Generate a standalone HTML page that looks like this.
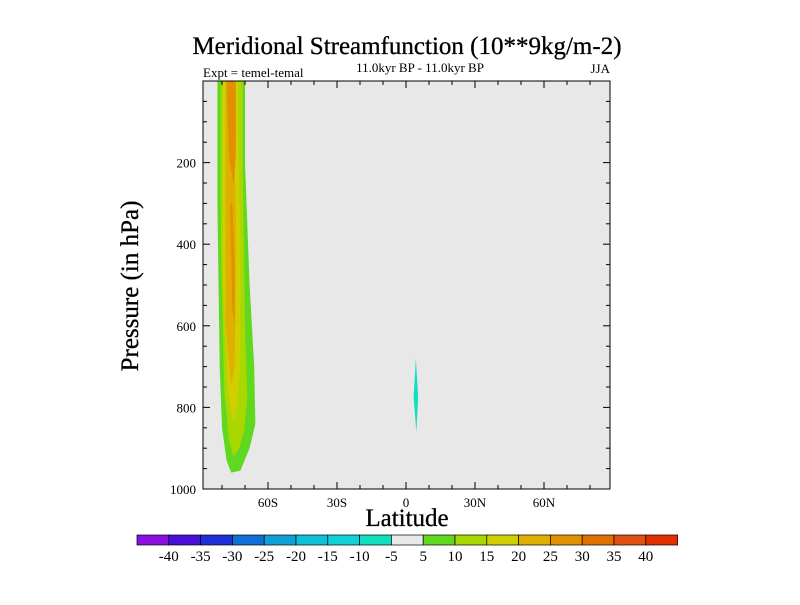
<!DOCTYPE html>
<html><head><meta charset="utf-8"><style>
body{margin:0;background:#fff;}
svg text{font-family:"Liberation Serif",serif;fill:#000;}
</style></head><body>
<svg id="c" width="800" height="600" viewBox="0 0 800 600" xmlns="http://www.w3.org/2000/svg">
<text x="407" y="54" font-size="25" text-anchor="middle" stroke="#000" stroke-width="0.3">Meridional Streamfunction (10**9kg/m-2)</text>
<text x="203" y="77" font-size="13">Expt = temel-temal</text>
<text x="420" y="72" font-size="13" text-anchor="middle">11.0kyr BP - 11.0kyr BP</text>
<text x="610" y="73" font-size="13" text-anchor="end">JJA</text>
<rect x="203" y="81" width="407" height="408" fill="#e8e8e8"/>
<g id="fills"></g>
<rect x="203" y="81" width="407" height="408" fill="none" stroke="#000" stroke-width="1"/>
<g id="axes"></g>
<text x="407" y="526" font-size="25" text-anchor="middle" stroke="#000" stroke-width="0.3">Latitude</text>
<text transform="translate(138,286) rotate(-90)" font-size="25" text-anchor="middle" stroke="#000" stroke-width="0.3">Pressure (in hPa)</text>
<g id="cbar"></g>
</svg>
<script>
const NS="http://www.w3.org/2000/svg";
const xTicks=[-60,-30,0,30,60];
const xTickLabels=["60S","30S","0","30N","60N"];
const yTicks=[200,400,600,800,1000];
const levelLabels=[-40,-35,-30,-25,-20,-15,-10,-5,5,10,15,20,25,30,35,40];
const levelColors=["#8a10e0","#4a10d8","#2030d8","#1070d8","#10a0d8","#10c0d8","#10d0d8","#10e0c0","#e8e8e8","#60d820","#a8d800","#d0d000","#e0b000","#e09000","#e07000","#e05010","#e03000"];
// contour polygons: [lat,pressure] vertices per level
const regionLevels=[5,10,15,20,25,25,-10];
const regionLats=[
 [-82,-82,-81,-80,-78,-76,-72,-68,-65.5,-66,-68,-70,-70],
 [-80.5,-80.5,-79,-77,-75,-72.5,-70.5,-69,-70,-71,-71],
 [-79.5,-79.5,-77.5,-75,-73.5,-72,-72,-73,-73],
 [-78.5,-78.5,-76,-74.5,-74,-74,-75,-74.5],
 [-78,-77,-75,-74,-74],
 [-76.5,-75.5,-74.5,-74.5,-75.5],
 [4.3,5.3,4.5,3.3]
];
const regionPres=[
 [0,300,700,850,930,960,955,900,840,700,500,200,0],
 [0,400,760,880,920,900,860,780,600,200,0],
 [0,500,760,840,800,700,400,100,0],
 [0,600,750,700,500,300,150,0],
 [0,180,260,180,0],
 [300,560,600,450,300],
 [680,775,860,775]
];
const X=lat=>406+lat*2.3;
const Y=p=>81+p*0.408;
const fills=document.getElementById('fills');
regionLevels.forEach((lv,k)=>{
 const pg=document.createElementNS(NS,'polygon');
 pg.setAttribute('points',regionLats[k].map((la,i)=>X(la)+','+Y(regionPres[k][i])).join(' '));
 const idx=levelLabels.indexOf(lv);
 pg.setAttribute('fill',lv>0?levelColors[idx+1]:levelColors[idx]);
 if(lv<0)pg.setAttribute('fill','#10e0c0');
 
 
 fills.appendChild(pg);
});
const ax=document.getElementById('axes');


function line(x1,y1,x2,y2){const l=document.createElementNS(NS,'line');l.setAttribute('x1',x1);l.setAttribute('y1',y1);l.setAttribute('x2',x2);l.setAttribute('y2',y2);l.setAttribute('stroke','#000');


ax.appendChild(l);}
function txt(x,y,s,anchor,sz){const t=document.createElementNS(NS,'text');t.setAttribute('x',x);t.setAttribute('y',y);t.setAttribute('text-anchor',anchor);t.setAttribute('font-size',sz);t.textContent=s;


return t;}
for(let lat=-80;lat<=80;lat+=10){const x=X(lat),maj=lat%30===0;line(x,489,x,489-(maj?7:4));line(x,81,x,81+(maj?7:4));}
xTicks.forEach((v,i)=>ax.appendChild(txt(X(v),507,xTickLabels[i],'middle',13)));
for(let p=50;p<=950;p+=50){const y=Y(p),maj=p%200===0;line(203,y,203+(maj?7:4),y);line(610,y,610-(maj?7:4),y);}
yTicks.forEach(v=>ax.appendChild(txt(196,Y(v)+5,String(v),'end',13)));
const cb=document.getElementById('cbar');
levelColors.forEach((c,i)=>{const r=document.createElementNS(NS,'rect');r.setAttribute('x',137+i*31.8);r.setAttribute('y',535);r.setAttribute('width',31.8);r.setAttribute('height',10);r.setAttribute('fill',c);r.setAttribute('stroke','#000');r.setAttribute('stroke-width','0.7');


cb.appendChild(r);});
levelLabels.forEach((v,i)=>cb.appendChild(txt(137+(i+1)*31.8,561,String(v),'middle',15)));
</script>
</body></html>
